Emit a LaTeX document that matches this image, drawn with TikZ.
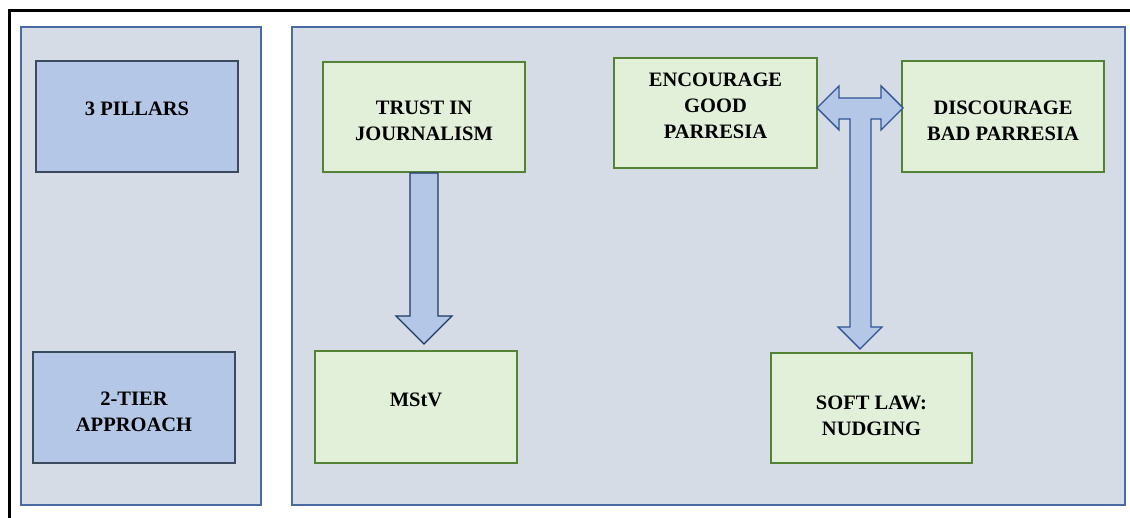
\documentclass[tikz,border=0pt]{standalone}
\usepackage{fontspec}
\setmainfont{Liberation Serif}
\definecolor{panelfill}{HTML}{D6DCE5}
\definecolor{panelline}{HTML}{4A6AA5}
\definecolor{bluefill}{HTML}{B4C7E7}
\definecolor{blueline}{HTML}{3B4A5E}
\definecolor{greenfill}{HTML}{E2F0D9}
\definecolor{greenline}{HTML}{548235}
\definecolor{arrowline}{HTML}{2F5597}
\definecolor{arrowdark}{HTML}{1F3864}
\begin{document}
\begin{tikzpicture}[x=1pt,y=-1pt,
  panel/.style={draw=panelline,fill=panelfill,line width=1.4pt,inner sep=0pt,outer sep=0pt},
  bluebox/.style={draw=blueline,fill=bluefill,line width=2.6pt,inner sep=0pt,outer sep=0pt},
  greenbox/.style={draw=greenline,fill=greenfill,line width=2.2pt,inner sep=0pt,outer sep=0pt},
  lbl/.style={font=\fontsize{20.5}{26}\selectfont\bfseries,align=center,inner sep=0pt},
  bigarrow/.style={fill=bluefill,line width=1.4pt,line join=miter}
]
\useasboundingbox (0,0) rectangle (1130,518);
\fill[white] (0,0) rectangle (1130,518);
% outer black frame
\draw[line width=3pt,black] (9.5,540) -- (9.5,11) -- (1150,11);
% panels
\path[panel] (21,27) rectangle (261,505);
\path[panel] (292,27) rectangle (1125,505);
% boxes
\node[bluebox,minimum width=202pt,minimum height=111pt] (pillars) at (137,116.5) {};
\node[bluebox,minimum width=202pt,minimum height=111pt] (tier) at (134,407.5) {};
\node[greenbox,minimum width=202pt,minimum height=110pt] (trust) at (424,117) {};
\node[greenbox,minimum width=202pt,minimum height=112pt] (mstv) at (416,407) {};
\node[greenbox,minimum width=203pt,minimum height=110pt] (enc) at (715.5,113) {};
\node[greenbox,minimum width=202pt,minimum height=111pt] (disc) at (1003,116.5) {};
\node[greenbox,minimum width=201pt,minimum height=110pt] (soft) at (871.5,408) {};
% labels
\node[lbl] (tpillars) at (137,109) {3 PILLARS};
\node[lbl] (ttier) at (134,412) {2-TIER\\APPROACH};
\node[lbl] (ttrust) at (424,121) {TRUST IN\\JOURNALISM};
\node[lbl] (tmstv) at (416,400) {MStV};
\node[lbl] (tenc) at (715.5,106) {ENCOURAGE\\GOOD\\PARRESIA};
\node[lbl] (tdisc) at (1003,121) {DISCOURAGE\\BAD PARRESIA};
\node[lbl] (tsoft) at (871.5,416) {SOFT LAW:\\NUDGING};
% down arrow
\draw[bigarrow,draw=arrowdark] (410,173) -- (438,173) -- (438,316) -- (452,316) -- (424,344) -- (396,316) -- (410,316) -- cycle;
% T arrow
\draw[bigarrow,draw=arrowline] (817,108) -- (839,86) -- (839,98) -- (881,98) -- (881,86) -- (903,108) -- (881,130) -- (881,119) -- (871,119) -- (871,327) -- (882,327) -- (860,349) -- (838,327) -- (850,327) -- (850,119) -- (839,119) -- (839,130) -- cycle;
\end{tikzpicture}
\end{document}
